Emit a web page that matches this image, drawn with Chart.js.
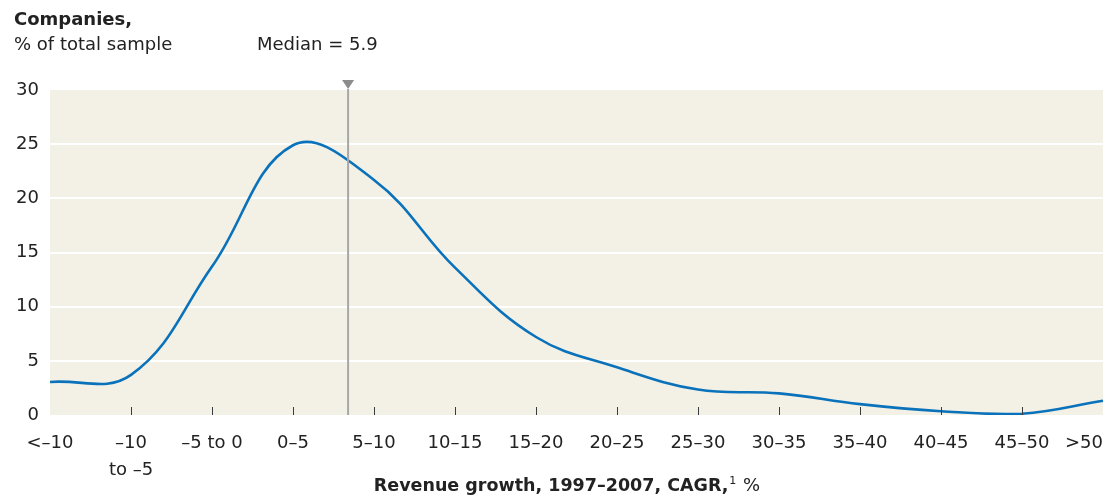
<!DOCTYPE html>
<html>
<head>
<meta charset="utf-8">
<script src="https://cdn.jsdelivr.net/npm/chart.js@4.4.1/dist/chart.umd.min.js"></script>
<style>
  html, body { margin: 0; padding: 0; background: #ffffff; }
  #wrap { position: relative; width: 1119px; height: 503px; }
</style>
</head>
<body>
<div id="wrap"><canvas id="chart"></canvas></div>
<script>
// Revenue-growth buckets (1997–2007 CAGR, %)
const categories = [
  '<–10', ['–10', 'to –5'], '–5 to 0', '0–5', '5–10', '10–15', '15–20',
  '20–25', '25–30', '30–35', '35–40', '40–45', '45–50', '>50'
];
// Lower bound of each bucket, used to place the median on the axis
const bucketLow = [-Infinity, -10, -5, 0, 5, 10, 15, 20, 25, 30, 35, 40, 45, 50];
const bucketWidth = 5;

// Companies, % of total sample
const sharePct = [3.05, 3.7, 13.7, 24.9, 21.7, 13.6, 7.2, 4.4, 2.35, 2.0, 1.0, 0.35, 0.12, 1.32];

const yTicks = [0, 5, 10, 15, 20, 25, 30];
const medianGrowth = 5.9;

const FONT = "'DejaVu Sans', sans-serif";
const TEXT = '#222222';
const PANEL = '#f3f0e6';
const LINE = '#0a72ba';

// Position of a growth value on the bucket axis (buckets centred on their ticks)
function growthToIndex(v) {
  let i = 0;
  for (let k = 0; k < bucketLow.length; k++) if (v >= bucketLow[k]) i = k;
  return i - 0.5 + (v - bucketLow[i]) / bucketWidth;
}

const panelBackground = {
  id: 'panelBackground',
  beforeDraw(chart) {
    const { ctx, chartArea: a } = chart;
    ctx.save();
    ctx.fillStyle = PANEL;
    ctx.fillRect(a.left, a.top, a.right - a.left, a.bottom - a.top);
    ctx.restore();
  }
};

const axisMarks = {
  id: 'axisMarks',
  afterDatasetsDraw(chart) {
    const { ctx, chartArea: a, scales: { x } } = chart;
    ctx.save();
    // inner tick marks on the bottom edge
    ctx.strokeStyle = '#3a3a3a';
    ctx.lineWidth = 1;
    for (let i = 1; i < categories.length - 1; i++) {
      const px = Math.round(x.getPixelForValue(i)) + 0.5;
      ctx.beginPath();
      ctx.moveTo(px, a.bottom - 8);
      ctx.lineTo(px, a.bottom);
      ctx.stroke();
    }
    // median marker
    const mx = x.getPixelForValue(growthToIndex(medianGrowth));
    ctx.strokeStyle = '#a8a8a8';
    ctx.lineWidth = 2;
    ctx.beginPath();
    ctx.moveTo(mx, a.top - 1);
    ctx.lineTo(mx, a.bottom);
    ctx.stroke();
    ctx.fillStyle = '#8c8c8c';
    ctx.beginPath();
    ctx.moveTo(mx - 6, a.top - 10);
    ctx.lineTo(mx + 6, a.top - 10);
    ctx.lineTo(mx, a.top - 1);
    ctx.closePath();
    ctx.fill();
    ctx.restore();
  }
};

const chartTexts = {
  id: 'chartTexts',
  afterDraw(chart) {
    const { ctx, chartArea: a, scales: { x } } = chart;
    ctx.save();
    ctx.fillStyle = TEXT;
    ctx.textBaseline = 'alphabetic';

    // header
    ctx.textAlign = 'left';
    ctx.font = `bold 18px ${FONT}`;
    ctx.fillText('Companies,', 14, 25);
    ctx.font = `18px ${FONT}`;
    ctx.fillText('% of total sample', 14, 50);
    ctx.fillText('Median = ' + medianGrowth.toFixed(1), 257, 50);

    // category labels
    const n = categories.length;
    categories.forEach((lab, i) => {
      const lines = Array.isArray(lab) ? lab : [lab];
      let px = x.getPixelForValue(i);
      ctx.textAlign = 'center';
      if (i === n - 1) { ctx.textAlign = 'right'; px = a.right; }
      lines.forEach((t, j) => ctx.fillText(t, px, a.bottom + 33 + j * 27));
    });

    // axis title with footnote marker
    const partA = 'Revenue growth, 1997–2007, CAGR,';
    const partB = '1';
    const partC = ' %';
    ctx.font = `bold 17.5px ${FONT}`;
    const wA = ctx.measureText(partA).width;
    ctx.font = `11px ${FONT}`;
    const wB = ctx.measureText(partB).width;
    ctx.font = `18px ${FONT}`;
    const wC = ctx.measureText(partC).width;
    let sx = 567 - (wA + wB + 2 + wC) / 2;
    const by = 491;
    ctx.textAlign = 'left';
    ctx.font = `bold 17.5px ${FONT}`;
    ctx.fillText(partA, sx, by);
    sx += wA + 1;
    ctx.font = `11px ${FONT}`;
    ctx.fillText(partB, sx, by - 7);
    sx += wB + 1;
    ctx.font = `18px ${FONT}`;
    ctx.fillText(partC, sx, by);
    ctx.restore();
  }
};

new Chart(document.getElementById('chart'), {
  type: 'line',
  data: {
    labels: categories,
    datasets: [{
      data: sharePct,
      borderColor: LINE,
      borderWidth: 2.6,
      pointRadius: 0,
      pointHoverRadius: 0,
      tension: 0.4,
      fill: false
    }]
  },
  options: {
    responsive: true,
    maintainAspectRatio: false,
    devicePixelRatio: 1,
    animation: false,
    layout: { padding: { top: 90, right: 16, bottom: 88, left: 0 } },
    plugins: { legend: { display: false }, tooltip: { enabled: false } },
    scales: {
      x: {
        offset: false,
        grid: { display: false },
        border: { display: false },
        ticks: { display: false },
        afterFit(scale) { scale.height = 0; }
      },
      y: {
        min: 0,
        max: 30,
        afterBuildTicks(scale) { scale.ticks = yTicks.map(v => ({ value: v })); },
        afterFit(scale) { scale.width = 50; },
        border: { display: false },
        grid: {
          drawTicks: false,
          lineWidth: 2,
          color: c => (c.tick && (c.tick.value === 0 || c.tick.value === 30)) ? 'rgba(0,0,0,0)' : '#ffffff'
        },
        ticks: {
          padding: 11,
          color: TEXT,
          font: { family: FONT, size: 18 }
        }
      }
    }
  },
  plugins: [panelBackground, axisMarks, chartTexts]
});
</script>
</body>
</html>
